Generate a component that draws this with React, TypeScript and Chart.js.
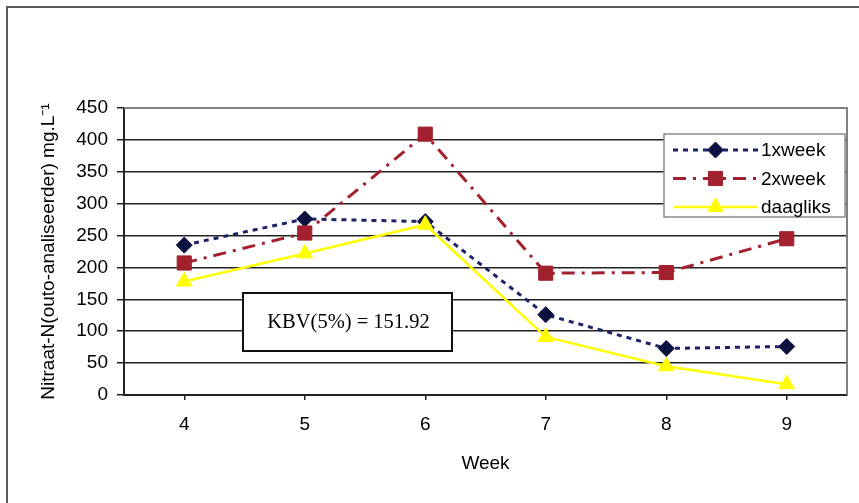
import { useEffect, useRef } from 'react';
import { Chart, registerables } from 'chart.js';
import { drawPoint } from 'chart.js/helpers';

Chart.register(...registerables);

// Nitrate-N readings per sampling week, three irrigation schedules
const weeks = ['4', '5', '6', '7', '8', '9'];
const eenKeerWeek = [235, 276, 272, 126, 73, 76];
const tweeKeerWeek = [207, 254, 409, 191, 192, 245];
const daagliks = [178, 222, 267, 91, 45, 17];
const seriesNames = ['1xweek', '2xweek', 'daagliks'];

const yMin = 0;
const yMax = 450;
const yStep = 50;

const yTitle = 'Nitraat-N(outo-analiseerder) mg.L⁻¹';
const xTitle = 'Week';
const kbvLabel = 'KBV(5%) = 151.92';

const sans = 'Liberation Sans, Arial, Helvetica, sans-serif';
const serif = 'Liberation Serif, Times New Roman, serif';
const fontSize = 19;

const decorPlugin = {
  id: 'decor',
  beforeDraw(chart: any) {
    const { ctx, width, height } = chart;
    ctx.save();
    ctx.fillStyle = '#ffffff';
    ctx.fillRect(0, 0, width, height);
    // outer frame (top and left edges)
    ctx.strokeStyle = '#5a5a5a';
    ctx.lineWidth = 2;
    ctx.beginPath();
    ctx.moveTo(7, height);
    ctx.lineTo(7, 7);
    ctx.lineTo(width, 7);
    ctx.stroke();
    ctx.restore();
  },
  beforeDatasetsDraw(chart: any) {
    const { ctx, chartArea } = chart;
    ctx.save();
    ctx.strokeStyle = '#808080';
    ctx.lineWidth = 2;
    ctx.beginPath();
    ctx.moveTo(chartArea.left, chartArea.top);
    ctx.lineTo(chartArea.right, chartArea.top);
    ctx.lineTo(chartArea.right, chartArea.bottom);
    ctx.stroke();
    ctx.restore();
  },
  afterDraw(chart: any) {
    const { ctx, chartArea } = chart;
    ctx.save();

    // KBV annotation box
    const bx = chartArea.left + 119;
    const by = chartArea.top + 185;
    const bw = 209;
    const bh = 58;
    ctx.fillStyle = '#ffffff';
    ctx.fillRect(bx, by, bw, bh);
    ctx.strokeStyle = '#111111';
    ctx.lineWidth = 2;
    ctx.strokeRect(bx, by, bw, bh);
    ctx.fillStyle = '#000000';
    ctx.font = `20.5px ${serif}`;
    ctx.textAlign = 'center';
    ctx.textBaseline = 'middle';
    ctx.fillText(kbvLabel, bx + bw / 2 + 1, by + bh / 2 + 1);

    // legend
    const lx = chartArea.right - 183;
    const ly = chartArea.top + 26;
    const lw = 181;
    const lh = 83;
    ctx.fillStyle = '#ffffff';
    ctx.fillRect(lx, ly, lw, lh);
    ctx.strokeStyle = '#8a8a8a';
    ctx.lineWidth = 1.5;
    ctx.strokeRect(lx, ly, lw, lh);

    chart.data.datasets.forEach((ds: any, i: number) => {
      const y = ly + 16 + i * 28.5;
      const x0 = lx + 9;
      const x1 = lx + 94;
      ctx.save();
      ctx.strokeStyle = ds.borderColor;
      ctx.lineWidth = ds.borderWidth;
      ctx.setLineDash(ds.borderDash || []);
      ctx.beginPath();
      ctx.moveTo(x0, y);
      ctx.lineTo(x1, y);
      ctx.stroke();
      ctx.setLineDash([]);
      ctx.fillStyle = ds.pointBackgroundColor;
      ctx.strokeStyle = ds.pointBorderColor;
      ctx.lineWidth = ds.pointBorderWidth;
      drawPoint(
        ctx,
        { pointStyle: ds.pointStyle, rotation: 0, radius: ds.pointRadius, borderWidth: ds.pointBorderWidth },
        (x0 + x1) / 2,
        y
      );
      ctx.restore();
      ctx.fillStyle = '#000000';
      ctx.font = `${fontSize}px ${sans}`;
      ctx.textAlign = 'left';
      ctx.textBaseline = 'middle';
      ctx.fillText(ds.label, x1 + 3, y + 1);
    });

    ctx.restore();
  },
};

export default function App() {
  const canvasRef = useRef<HTMLCanvasElement | null>(null);

  useEffect(() => {
    if (!canvasRef.current) return;
    const chart = new Chart(canvasRef.current, {
      type: 'line',
      data: {
        labels: weeks,
        datasets: [
          {
            label: seriesNames[0],
            data: eenKeerWeek,
            borderColor: '#1b2266',
            borderWidth: 3,
            borderDash: [5, 5],
            pointStyle: 'rectRot',
            pointRadius: 8,
            pointBackgroundColor: '#0c1240',
            pointBorderColor: '#0c1240',
            pointBorderWidth: 1,
            tension: 0,
            order: 3,
          },
          {
            label: seriesNames[1],
            data: tweeKeerWeek,
            borderColor: '#a3202e',
            borderWidth: 3,
            borderDash: [13, 7, 3, 7],
            pointStyle: 'rect',
            pointRadius: 10,
            pointBackgroundColor: '#a3202e',
            pointBorderColor: '#a3202e',
            pointBorderWidth: 1,
            tension: 0,
            order: 2,
          },
          {
            label: seriesNames[2],
            data: daagliks,
            borderColor: '#ffff00',
            borderWidth: 2.5,
            borderDash: [],
            pointStyle: 'triangle',
            pointRadius: 9,
            pointBackgroundColor: '#ffff00',
            pointBorderColor: '#ffff00',
            pointBorderWidth: 1,
            tension: 0,
            order: 1,
          },
        ],
      },
      options: {
        responsive: false,
        animation: false,
        layout: { padding: { top: 108, right: 12, left: 0, bottom: 0 } },
        plugins: {
          legend: { display: false },
          tooltip: { enabled: false },
        },
        scales: {
          x: {
            type: 'category',
            offset: true,
            grid: {
              display: true,
              drawOnChartArea: false,
              drawTicks: true,
              tickLength: 5,
              tickColor: '#222222',
              lineWidth: 1.5,
            },
            border: { display: true, color: '#222222', width: 2 },
            ticks: { color: '#000000', font: { family: sans, size: fontSize }, padding: 13 },
            title: {
              display: true,
              text: xTitle,
              color: '#000000',
              font: { family: sans, size: fontSize },
              padding: { top: 0, bottom: 28 },
            },
            afterFit: (s: any) => {
              s.height = 108;
            },
          },
          y: {
            min: yMin,
            max: yMax,
            ticks: { stepSize: yStep, color: '#000000', font: { family: sans, size: fontSize }, padding: 9 },
            grid: {
              color: (c: any) => (c.tick && c.tick.value === yMax ? 'rgba(0,0,0,0)' : '#222222'),
              tickColor: '#222222',
              lineWidth: 1.5,
              drawTicks: true,
              tickLength: 7,
            },
            border: { display: true, color: '#222222', width: 2 },
            title: {
              display: true,
              text: yTitle,
              color: '#000000',
              font: { family: sans, size: fontSize },
              padding: { top: 37, bottom: 0 },
            },
            afterFit: (s: any) => {
              s.width = 124;
            },
          },
        },
      },
      plugins: [decorPlugin],
    } as any);
    return () => chart.destroy();
  }, []);

  return (
    <div style={{ position: 'absolute', left: 0, top: 0, width: 859, height: 503 }}>
      <canvas ref={canvasRef} width={859} height={503} />
    </div>
  );
}
